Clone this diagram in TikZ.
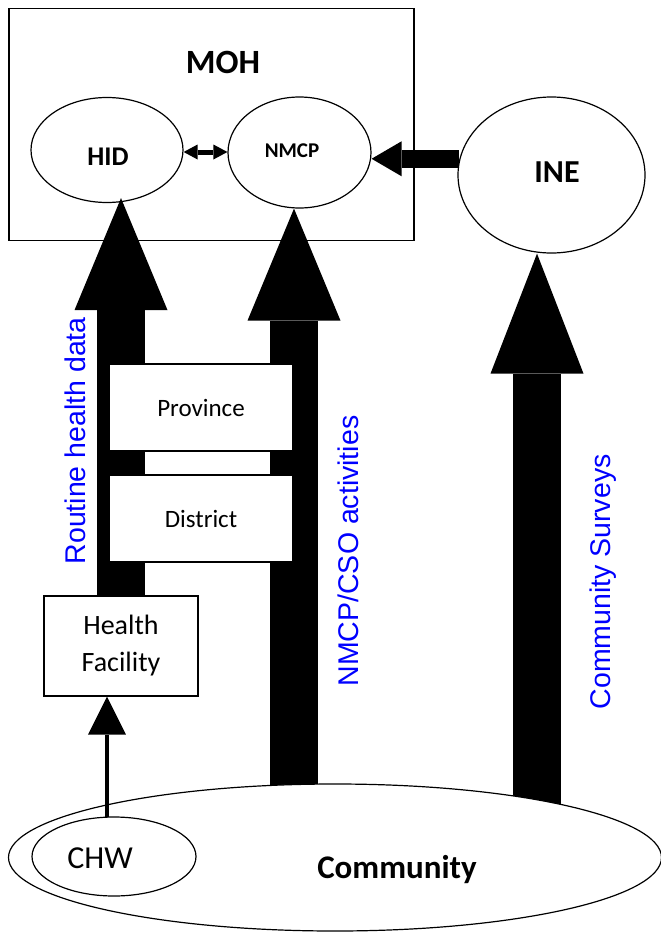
\documentclass[tikz,border=0pt]{standalone}
\usepackage{fontspec}
\setmainfont{Carlito}
\newfontfamily\arialfont{Liberation Sans}
\usetikzlibrary{arrows.meta, shapes.geometric, backgrounds}

\begin{document}
\begin{tikzpicture}[x=1pt, y=-1pt, line width=1.2pt,
  oval/.style={draw, ellipse, inner sep=0pt},
  box/.style={draw, fill=white, inner sep=0pt, align=center},
  flowlabel/.style={text=blue, rotate=90, anchor=base west, inner sep=0pt, font=\arialfont\fontsize{28.5}{34}\selectfont},
  bigarrow/.style={line width=48pt, -{Triangle[length=#1, width=93pt, line width=0pt]}},
  bigarrow/.default=112pt]
  \useasboundingbox (0,0) rectangle (661,934);

  \node [draw, minimum width=405pt, minimum height=232pt] (moh) at (211.5,124.5) {};
  \node [font=\bfseries\fontsize{34}{40}\selectfont] (mohlabel) at (223,62.5) {MOH};
  \node [oval, minimum width=152pt, minimum height=105pt] (hid) at (107,150) {};
  \node [font=\bfseries\fontsize{27}{32}\selectfont] (hidlabel) at (108,157) {HID};
  \node [oval, minimum width=143pt, minimum height=111pt] (nmcp) at (299.5,152.5) {};
  \node [font=\bfseries\fontsize{21}{25}\selectfont] (nmcplabel) at (292,151) {NMCP};
  \node [oval, minimum width=187pt, minimum height=156pt] (ine) at (551.5,175) {};
  \node [font=\bfseries\fontsize{32}{38}\selectfont] (inelabel) at (557,172) {INE};

  \node [box, minimum width=184pt, minimum height=87pt, font=\fontsize{25}{30}\selectfont] (prov) at (201,407.5) {Province};
  \node [box, minimum width=184pt, minimum height=87pt, font=\fontsize{25}{30}\selectfont] (dist) at (201,518.5) {District};
  \node [box, minimum width=154pt, minimum height=100pt, font=\fontsize{28}{37}\selectfont] (hf) at (121,646) {Health\\Facility};

  \node [oval, fill=white, minimum width=653pt, minimum height=147pt] (comm) at (335,857.5) {};
  \node [font=\bfseries\fontsize{33}{39}\selectfont] (commlabel) at (397,870) {Community};
  \node [oval, fill=white, minimum width=164pt, minimum height=79pt] (chw) at (114,856.5) {};
  \node [font=\fontsize{32}{38}\selectfont] (chwlabel) at (100,858) {CHW};

  \node [flowlabel] (routine) at (85,565) {Routine health data};
  \node [flowlabel] (cso) at (358,687) {NMCP/CSO activities};
  \node [flowlabel] (surveys) at (610,710) {Community Surveys};

  \begin{scope}[on background layer]
    \coordinate (nmcpfoot) at (294,850);
    \coordinate (inefoot) at (537,850);
    \draw [bigarrow] (hf.north) -- ([yshift=5pt]hf.north |- hid.south);
    \draw [bigarrow] (nmcpfoot) -- (nmcpfoot |- nmcp.south);
    \draw [bigarrow=120pt] (inefoot) -- (inefoot |- ine.south);
    \draw [line width=18pt, -{Triangle[length=30pt, width=35pt, line width=0pt]}] (ine.170) -- (ine.170 -| nmcp.east);
    \draw [line width=5pt, {Triangle[length=14pt, width=15pt, line width=0pt]}-{Triangle[length=14pt, width=15pt, line width=0pt]}] ([yshift=-2pt]hid.east) -- ([yshift=-2pt]hid.east -| nmcp.west);
  \end{scope}

  \draw [line width=4.5pt, -{Triangle[length=38pt, width=38pt, line width=0pt]}] (chw.100) -- (chw.100 |- hf.south);
\end{tikzpicture}
\end{document}
